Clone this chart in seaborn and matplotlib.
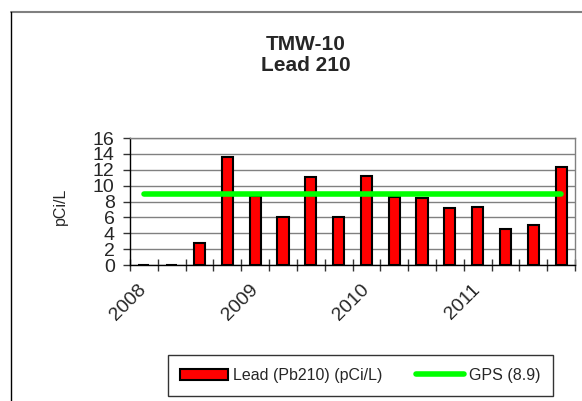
#!/usr/bin/env python3
"""TMW-10 Lead 210 bar chart with GPS reference line."""

import matplotlib.pyplot as plt
import numpy as np
import pandas as pd
import seaborn as sns
from matplotlib.lines import Line2D
from matplotlib.patches import Patch

QUARTERS = [f"{y} Q{q}" for y in (2008, 2009, 2010, 2011) for q in (1, 2, 3, 4)]
LEAD = [0.0, 0.0, 2.8, 13.6, 8.7, 6.1, 11.1, 6.1,
        11.2, 8.6, 8.5, 7.2, 7.3, 4.5, 5.1, 12.3]
GPS = 8.9
YEAR_LABELS = ["2008", "2009", "2010", "2011"]
YEAR_POS = [0, 4, 8, 12]

GRAY = "#808080"


def setup_style():
    sns.set_theme(style="white")
    plt.rcParams.update({
        "font.family": ["Liberation Sans", "DejaVu Sans"],
        "figure.dpi": 100,
    })


def main():
    setup_style()
    fig = plt.figure(figsize=(5.82, 4.01), dpi=100)
    ax = fig.add_axes([130 / 582, 1 - 265 / 401, 445 / 582, 127 / 401])

    df = pd.DataFrame({"quarter": QUARTERS, "lead": LEAD})
    sns.barplot(data=df, x="quarter", y="lead", color="#FF0000", saturation=1,
                edgecolor="black", linewidth=1.5, width=0.4, ax=ax, zorder=3)

    n = len(QUARTERS)
    sns.lineplot(x=np.arange(n), y=[GPS] * n, color="#00FF00", linewidth=4,
                 ax=ax, zorder=4)

    ax.set_xlim(-0.5, n - 0.5)
    ax.set_ylim(0, 16)
    ax.set_yticks(range(0, 17, 2))
    ax.yaxis.grid(True, color=GRAY, linewidth=1)
    ax.set_axisbelow(True)

    # tick marks between categories, year labels under first quarter
    ax.set_xticks(np.arange(n + 1) - 0.5)
    ax.set_xticklabels([])
    ax.set_xticks(YEAR_POS, minor=True)
    ax.set_xticklabels(YEAR_LABELS, minor=True, rotation=45, ha="right",
                       va="center", rotation_mode="anchor", fontsize=14)
    ax.tick_params(axis="x", which="major", direction="inout", length=9,
                   width=1, color="#333333", bottom=True)
    ax.tick_params(axis="x", which="minor", length=0, pad=16, bottom=True)
    ax.tick_params(axis="y", direction="out", length=5, width=1, left=True,
                   color="#333333", labelsize=14, pad=6)

    ax.set_xlabel("")
    ax.set_ylabel("pCi/L", fontsize=11.5)
    ax.yaxis.set_label_coords(-0.14, 0.46)

    for side in ("left", "bottom"):
        ax.spines[side].set_color("black")
        ax.spines[side].set_linewidth(1)
    for side in ("top", "right"):
        ax.spines[side].set_color(GRAY)
        ax.spines[side].set_linewidth(1)

    fig.text(0.526, 0.862, "TMW-10\nLead 210", ha="center", va="center",
             fontsize=15, fontweight="bold", linespacing=1.15)

    handles = [
        Patch(facecolor="#FF0000", edgecolor="black", linewidth=1.5),
        Line2D([], [], color="#00FF00", linewidth=4),
    ]
    leg = fig.legend(handles, ["Lead (Pb210) (pCi/L)", "GPS (8.9)"],
                     loc="center", bbox_to_anchor=(0.619, 0.0636), ncol=2,
                     fontsize=11.5, frameon=True, fancybox=False,
                     edgecolor="black", handlelength=3.0, columnspacing=2.1,
                     handletextpad=0.3, borderpad=0.8)
    leg.get_frame().set_linewidth(1)

    # chart area border (cropped)
    fig.add_artist(Line2D([11 / 582, 1], [1 - 12 / 401] * 2, color=GRAY,
                          linewidth=1.5, transform=fig.transFigure))
    fig.add_artist(Line2D([11 / 582] * 2, [0, 1 - 12 / 401], color="black",
                          linewidth=1, transform=fig.transFigure))

    fig.savefig("out.png", dpi=100)
    plt.close(fig)


if __name__ == "__main__":
    main()
